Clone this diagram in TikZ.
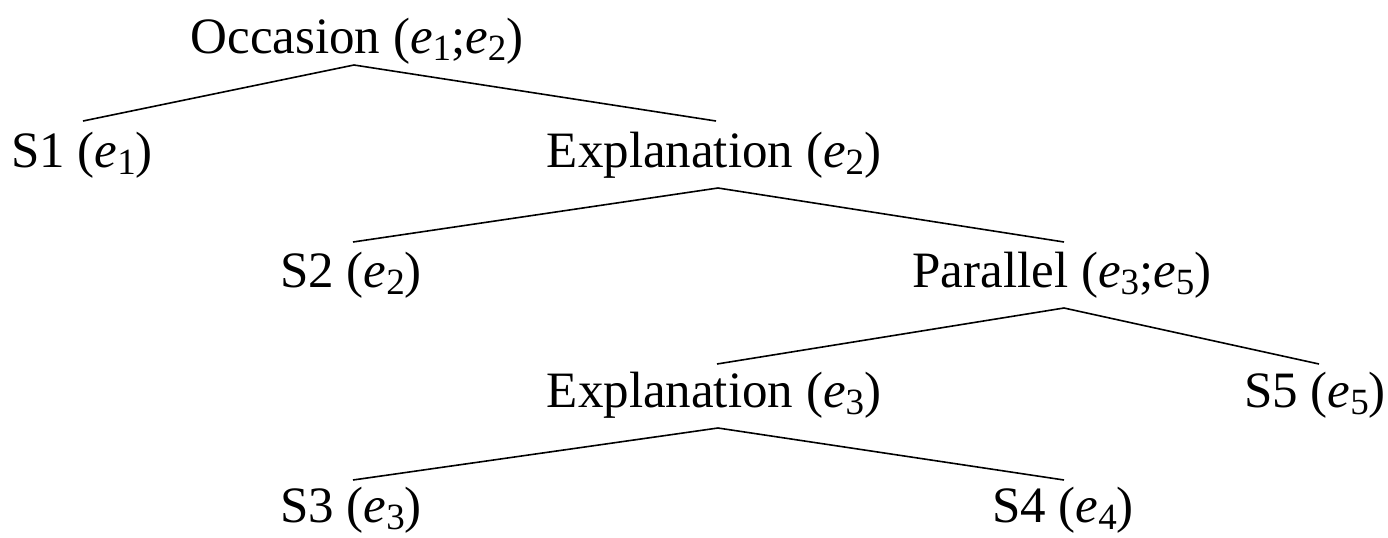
\documentclass[tikz,border=0pt]{standalone}
\usepackage{fontspec}
\setmainfont{Liberation Serif}
\usetikzlibrary{calc}
\newcommand\ev[1]{\textit{e}\raisebox{-3.8pt}{\fontsize{18.5}{18.5}\selectfont #1}}
\begin{document}
\begin{tikzpicture}[x=0.5pt,y=-0.5pt,
  lbl/.style={anchor=base,inner sep=0pt,font=\fontsize{25.5}{29}\selectfont},
  edge/.style={line width=0.8pt,black}]
\useasboundingbox (0,0) rectangle (1388,537);
\node[lbl] (occ) at (357,53) {Occasion (\ev{1};\ev{2})};
\node[lbl] (s1) at (82,167) {S1 (\ev{1})};
\node[lbl] (exa) at (714,167) {Explanation (\ev{2})};
\node[lbl] (s2) at (351,287) {S2 (\ev{2})};
\node[lbl] (par) at (1062,287) {Parallel (\ev{3};\ev{5})};
\node[lbl] (exb) at (714,407) {Explanation (\ev{3})};
\node[lbl] (s5) at (1315,407) {S5 (\ev{5})};
\node[lbl] (s3) at (351,522) {S3 (\ev{3})};
\node[lbl] (s4) at (1063,522) {S4 (\ev{4})};
\draw[edge] ($(s1.base)+(1,-46)$) -- ($(occ.base)+(-3,12)$) -- ($(exa.base)+(2,-46)$);
\draw[edge] ($(s2.base)+(2,-45)$) -- ($(exa.base)+(4,21)$) -- ($(par.base)+(2,-45)$);
\draw[edge] ($(exb.base)+(3,-43)$) -- ($(par.base)+(2,21)$) -- ($(s5.base)+(4,-43)$);
\draw[edge] ($(s3.base)+(2,-42)$) -- ($(exb.base)+(4,21)$) -- ($(s4.base)+(1,-42)$);
\end{tikzpicture}
\end{document}
